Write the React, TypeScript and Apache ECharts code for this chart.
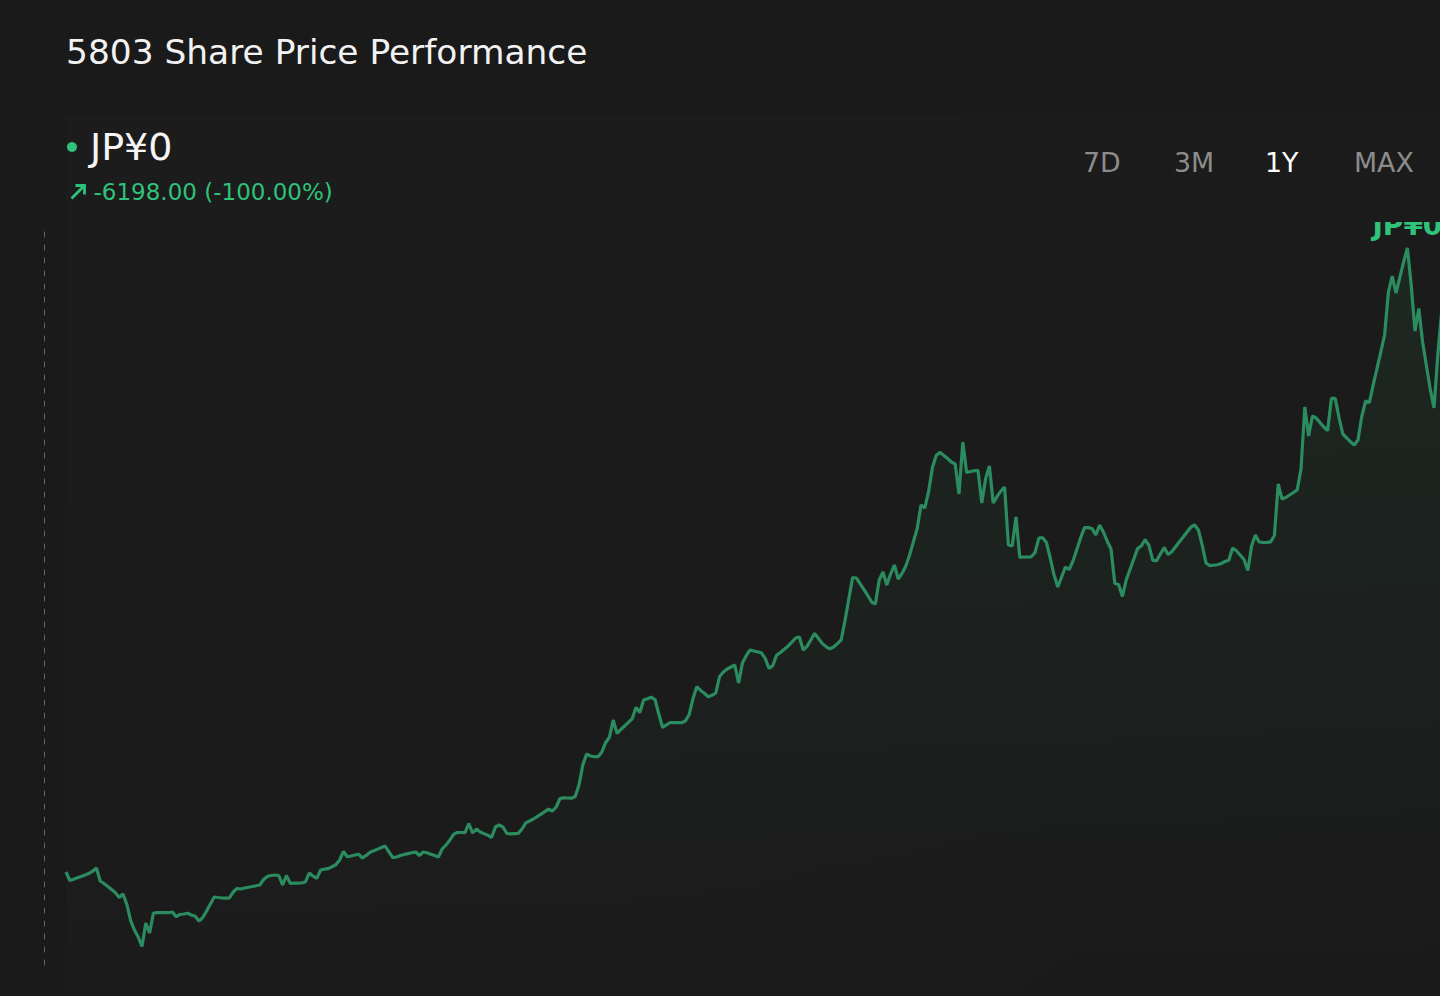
import React, { useEffect, useRef } from "react";
import * as echarts from "echarts";

const TITLE = "5803 Share Price Performance";
const PRICE_LABEL = "JP¥0";
const CHANGE_LABEL = "-6198.00 (-100.00%)";
const RANGES = ["7D", "3M", "1Y", "MAX"];
const ACTIVE_RANGE = "1Y";

// daily closes (JPY), one year
const PRICES = [
  6200, 5988, 6017, 6055, 6090, 6125, 6162, 6220, 6300, 5975,
  5912, 5835, 5760, 5682, 5562, 5650, 5388, 4990, 4750, 4575,
  4338, 4925, 4675, 5175, 5182, 5182, 5182, 5182, 5200, 5082,
  5138, 5150, 5168, 5125, 5092, 4975, 5062, 5225, 5400, 5575,
  5562, 5550, 5545, 5555, 5700, 5788, 5775, 5800, 5818, 5838,
  5855, 5875, 6012, 6090, 6112, 6125, 6112, 5875, 6112, 5918,
  5920, 5922, 5925, 5950, 6175, 6100, 6042, 6250, 6270, 6285,
  6332, 6382, 6500, 6712, 6582, 6600, 6625, 6645, 6550, 6615,
  6692, 6732, 6772, 6812, 6848, 6700, 6560, 6575, 6612, 6638,
  6660, 6680, 6700, 6612, 6700, 6680, 6645, 6610, 6575, 6775,
  6875, 6995, 7138, 7192, 7188, 7185, 7412, 7175, 7275, 7200,
  7160, 7120, 7062, 7325, 7375, 7325, 7162, 7155, 7160, 7165,
  7275, 7428, 7475, 7525, 7585, 7645, 7710, 7770, 7725, 7825,
  8038, 8055, 8050, 8045, 8088, 8375, 8875, 9150, 9100, 9082,
  9082, 9195, 9432, 9568, 10000, 9668, 9762, 9850, 9942, 10032,
  10312, 10188, 10500, 10532, 10570, 10512, 10150, 9812, 9880, 9932,
  9932, 9932, 9932, 9975, 10138, 10535, 10832, 10738, 10668, 10582,
  10618, 10675, 11088, 11200, 11275, 11325, 11375, 10925, 11425, 11608,
  11750, 11725, 11702, 11680, 11540, 11288, 11362, 11618, 11688, 11770,
  11845, 11945, 12050, 12075, 11750, 11840, 12000, 12165, 12042, 11915,
  11835, 11778, 11825, 11910, 12005, 12488, 13025, 13562, 13550, 13405,
  13260, 13112, 12950, 12900, 13500, 13700, 13375, 13650, 13875, 13525,
  13665, 13850, 14125, 14458, 14788, 15375, 15300, 15708, 16312, 16612,
  16692, 16615, 16538, 16450, 16400, 15650, 16950, 16188, 16212, 16232,
  16242, 15425, 16035, 16350, 15425, 15585, 15720, 15825, 14375, 14350,
  15075, 14068, 14075, 14075, 14080, 14185, 14545, 14558, 14438, 14050,
  13635, 13325, 13575, 13825, 13762, 13975, 14262, 14550, 14808, 14808,
  14788, 14625, 14875, 14700, 14470, 14275, 13412, 13388, 13088, 13500,
  13762, 14025, 14285, 14355, 14512, 14360, 13992, 13985, 14150, 14310,
  14138, 14208, 14330, 14455, 14575, 14698, 14820, 14875, 14750, 14370,
  13925, 13860, 13870, 13882, 13912, 13962, 13995, 14300, 14232, 14125,
  14012, 13738, 14350, 14625, 14450, 14438, 14442, 14455, 14612, 15900,
  15525, 15562, 15625, 15688, 15750, 16275, 17825, 17100, 17600, 17550,
  17435, 17325, 17232, 18042, 18042, 17562, 17150, 17055, 16958, 16875,
  17000, 17592, 17975, 17938, 18380, 18782, 19200, 19625, 20700, 21100,
  20675, 21062, 21450, 21800, 20875, 19725, 20288, 19450, 18862, 18275,
  17800, 19125, 20200, 20500,
];

const START_DAY = Date.UTC(2024, 10, 20);
const DATES: string[] = PRICES.map((_, i) =>
  new Date(START_DAY + i * 86400000).toISOString().slice(0, 10)
);

const Y_MIN = 3875;
const Y_MAX = 22375;

const FONT = "'DejaVu Sans', 'Noto Sans', sans-serif";
const BG = "#1a1a1a";
const GREEN = "#2fc27a";
const LINE = "#2b8c5f";

export default function App() {
  const ref = useRef<HTMLDivElement>(null);

  useEffect(() => {
    if (!ref.current) return;
    const chart = echarts.init(ref.current, undefined, { renderer: "svg" });
    const rangeX: Record<string, number> = { "7D": 1083, "3M": 1174, "1Y": 1265, MAX: 1354 };

    const option: any = {
      animation: false,
      backgroundColor: BG,
      textStyle: { fontFamily: FONT },
      grid: { left: 66, right: 54.6, top: 225, bottom: 31 },
      xAxis: { type: "category", data: DATES, boundaryGap: false, show: false },
      yAxis: {
        type: "value",
        min: Y_MIN,
        max: Y_MAX,
        offset: 22,
        axisLine: { show: true, lineStyle: { color: "#666666", type: [5, 8], width: 1 } },
        axisTick: { show: false },
        axisLabel: { show: false },
        splitLine: { show: false },
      },
      series: [
        {
          type: "line",
          data: PRICES,
          symbol: "none",
          showSymbol: false,
          z: 3,
          lineStyle: { color: LINE, width: 3.2 },
          areaStyle: {
            color: new echarts.graphic.LinearGradient(0, 0, 0, 1, [
              { offset: 0, color: "rgba(46,139,87,0.16)" },
              { offset: 1, color: "rgba(46,139,87,0.0)" },
            ]),
          },
          markPoint: {
            symbol: "circle",
            symbolSize: 0,
            data: [{ type: "max" }],
            label: {
              show: true,
              position: "top",
              distance: 9,
              formatter: PRICE_LABEL,
              color: GREEN,
              fontSize: 28,
              fontWeight: "bold",
              fontFamily: FONT,
            },
          },
        },
      ],
      graphic: [
        {
          type: "rect",
          z: 0,
          shape: { x: 66, y: 115, width: 1434, height: 881 },
          style: {
            fill: new echarts.graphic.LinearGradient(0, 0, 1, 1, [
              { offset: 0, color: "#1c1c1c" },
              { offset: 0.6, color: "#1b1b1b" },
              { offset: 1, color: "#1a1a1a" },
            ]),
          },
        },
        {
          type: "rect",
          z: 100,
          shape: { x: 1300, y: 185, width: 200, height: 37 },
          style: { fill: "#1b1b1b" },
        },
        {
          type: "text",
          z: 101,
          x: 66,
          y: 52,
          style: { text: TITLE, fontSize: 34.4, fontFamily: FONT, fill: "#f2f2f2", align: "left", verticalAlign: "middle" },
        },
        {
          type: "circle",
          z: 101,
          shape: { cx: 72, cy: 147, r: 5 },
          style: { fill: GREEN },
        },
        {
          type: "text",
          z: 101,
          x: 90,
          y: 147,
          style: { text: PRICE_LABEL, fontSize: 38, fontFamily: FONT, fill: "#f5f5f5", align: "left", verticalAlign: "middle" },
        },
        {
          type: "polyline",
          z: 101,
          shape: { points: [[71.5, 198.5], [84.5, 185.5]] },
          style: { stroke: GREEN, lineWidth: 2.8, fill: null },
        },
        {
          type: "polyline",
          z: 101,
          shape: { points: [[75.5, 185.5], [84.5, 185.5], [84.5, 194.5]] },
          style: { stroke: GREEN, lineWidth: 2.8, fill: null },
        },
        {
          type: "text",
          z: 101,
          x: 93.5,
          y: 192,
          style: { text: CHANGE_LABEL, fontSize: 23, fontFamily: FONT, fill: GREEN, align: "left", verticalAlign: "middle" },
        },
        ...RANGES.map((r) => ({
          type: "text",
          z: 101,
          x: rangeX[r],
          y: 162.5,
          style: {
            text: r,
            fontSize: 26.8,
            fontFamily: FONT,
            fill: r === ACTIVE_RANGE ? "#ffffff" : "#8c8c8c",
            align: "left",
            verticalAlign: "middle",
          },
        })),
      ],
    };

    chart.setOption(option);
    return () => chart.dispose();
  }, []);

  return (
    <div
      style={{
        position: "fixed",
        left: 0,
        top: 0,
        width: 1440,
        height: 996,
        overflow: "hidden",
        background: BG,
      }}
    >
      <div ref={ref} style={{ width: 1500, height: 996 }} />
    </div>
  );
}
